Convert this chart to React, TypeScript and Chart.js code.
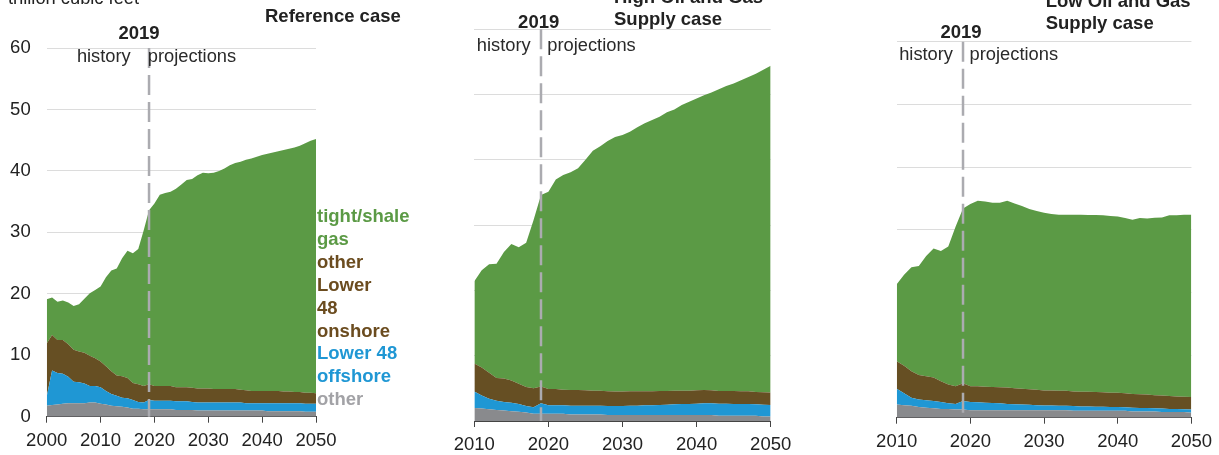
import React, { useEffect, useRef } from "react";
import { Chart, registerables } from "chart.js";

Chart.register(...registerables);

const FONT = "'Liberation Sans', Arial, Helvetica, sans-serif";

// ---------- Reference case (2000-2050) ----------
const refYears = [
  2000, 2001, 2002, 2003, 2004, 2005, 2006, 2007, 2008, 2009,
  2010, 2011, 2012, 2013, 2014, 2015, 2016, 2017, 2018, 2019,
  2020, 2021, 2022, 2023, 2024, 2025, 2026, 2027, 2028, 2029,
  2030, 2031, 2032, 2033, 2034, 2035, 2036, 2037, 2038, 2039,
  2040, 2041, 2042, 2043, 2044, 2045, 2046, 2047, 2048, 2049, 2050,
];
const refOther = [
  1.8, 1.9, 2.0, 2.1, 2.2, 2.2, 2.2, 2.2, 2.3, 2.3,
  2.1, 2.0, 1.8, 1.7, 1.6, 1.5, 1.3, 1.3, 1.2, 1.2,
  1.2, 1.2, 1.2, 1.2, 1.1, 1.1, 1.1, 1.1, 1.0, 1.0,
  1.0, 1.0, 1.0, 1.0, 1.0, 1.0, 1.0, 1.0, 1.0, 1.0,
  1.0, 0.9, 0.9, 0.9, 0.9, 0.9, 0.9, 0.9, 0.8, 0.8, 0.8,
];
const refOffshore = [
  1.5, 5.6, 5.1, 4.9, 4.3, 3.5, 3.4, 3.2, 2.7, 2.7,
  2.7, 2.2, 1.9, 1.7, 1.5, 1.5, 1.4, 1.1, 1.1, 1.5,
  1.4, 1.4, 1.4, 1.4, 1.4, 1.4, 1.4, 1.3, 1.3, 1.3,
  1.3, 1.3, 1.3, 1.3, 1.3, 1.3, 1.3, 1.2, 1.2, 1.2,
  1.2, 1.3, 1.3, 1.3, 1.3, 1.3, 1.3, 1.3, 1.3, 1.3, 1.3,
];
const refOnshore = [
  8.6, 5.8, 5.4, 5.5, 5.3, 5.2, 5.0, 5.0, 4.9, 4.5,
  4.2, 4.0, 3.7, 3.3, 3.5, 3.3, 2.8, 2.9, 2.7, 2.6,
  2.4, 2.4, 2.4, 2.4, 2.3, 2.3, 2.3, 2.3, 2.3, 2.3,
  2.3, 2.2, 2.2, 2.2, 2.2, 2.2, 2.1, 2.1, 2.0, 2.0,
  2.0, 2.0, 2.0, 2.0, 1.9, 1.9, 1.8, 1.8, 1.8, 1.8, 1.7,
];
const refTight = [
  7.2, 6.1, 6.2, 6.4, 6.8, 7.1, 7.7, 8.8, 10.2, 11.1,
  12.2, 14.5, 16.4, 17.4, 19.2, 20.7, 21.1, 22.0, 25.3, 28.3,
  29.7, 31.1, 31.4, 31.6, 32.3, 33.0, 33.7, 34.0, 34.7, 35.1,
  35.0, 35.2, 35.5, 35.9, 36.4, 36.8, 37.1, 37.5, 37.8, 38.1,
  38.4, 38.6, 38.8, 39.0, 39.3, 39.5, 39.8, 40.1, 40.6, 41.0, 41.4,
];

// ---------- Side cases (2010-2050) ----------
const caseYears = [
  2010, 2011, 2012, 2013, 2014, 2015, 2016, 2017, 2018, 2019,
  2020, 2021, 2022, 2023, 2024, 2025, 2026, 2027, 2028, 2029,
  2030, 2031, 2032, 2033, 2034, 2035, 2036, 2037, 2038, 2039,
  2040, 2041, 2042, 2043, 2044, 2045, 2046, 2047, 2048, 2049, 2050,
];

// High Oil and Gas Supply case
const highOther = [
  2.0, 1.9, 1.8, 1.7, 1.6, 1.5, 1.4, 1.3, 1.1, 1.1,
  1.1, 1.1, 1.1, 1.0, 1.0, 1.0, 1.0, 1.0, 0.9, 0.9,
  0.9, 0.9, 0.9, 0.9, 0.9, 0.9, 0.9, 0.9, 0.9, 0.9,
  0.9, 0.9, 0.9, 0.8, 0.8, 0.8, 0.8, 0.8, 0.8, 0.7, 0.7,
];
const highOffshore = [
  2.5, 2.0, 1.6, 1.4, 1.3, 1.3, 1.2, 1.0, 1.0, 1.6,
  1.3, 1.3, 1.3, 1.35, 1.35, 1.35, 1.35, 1.35, 1.4, 1.4,
  1.4, 1.45, 1.45, 1.5, 1.5, 1.55, 1.6, 1.65, 1.7, 1.7,
  1.75, 1.8, 1.8, 1.85, 1.85, 1.8, 1.8, 1.8, 1.75, 1.8, 1.75,
];
const highOnshore = [
  4.3, 4.3, 4.0, 3.5, 3.6, 3.4, 3.1, 2.9, 2.9, 2.6,
  2.5, 2.5, 2.4, 2.4, 2.4, 2.35, 2.3, 2.3, 2.25, 2.2,
  2.2, 2.2, 2.2, 2.15, 2.15, 2.15, 2.1, 2.1, 2.05, 2.05,
  2.05, 2.05, 2.0, 1.95, 1.95, 2.0, 1.95, 1.95, 1.9, 1.9, 1.9,
];
const highTight = [
  12.6, 14.9, 16.6, 17.5, 19.4, 20.9, 20.9, 22.1, 25.8, 29.3,
  30.2, 32.1, 32.9, 33.35, 33.95, 35.3, 36.75, 37.45, 38.35, 39.0,
  39.3, 39.75, 40.45, 41.05, 41.55, 42.0, 42.7, 43.05, 43.75, 44.25,
  44.7, 45.15, 45.6, 46.2, 46.7, 47.1, 47.65, 48.15, 48.75, 49.4, 50.05,
];

// Low Oil and Gas Supply case
const lowOther = [
  2.1, 2.0, 1.9, 1.7, 1.6, 1.5, 1.4, 1.4, 1.3, 1.3,
  1.2, 1.2, 1.2, 1.2, 1.2, 1.2, 1.2, 1.2, 1.2, 1.2,
  1.2, 1.2, 1.2, 1.2, 1.1, 1.1, 1.1, 1.1, 1.1, 1.1,
  1.1, 1.1, 1.0, 1.0, 1.0, 1.0, 0.9, 0.9, 0.9, 0.9, 0.8,
];
const lowOffshore = [
  2.5, 1.9, 1.3, 1.2, 1.2, 1.15, 1.1, 0.9, 0.9, 1.35,
  1.3, 1.25, 1.2, 1.15, 1.1, 1.0, 0.95, 0.9, 0.85, 0.8,
  0.75, 0.75, 0.7, 0.7, 0.75, 0.7, 0.7, 0.65, 0.65, 0.6,
  0.6, 0.55, 0.6, 0.55, 0.55, 0.5, 0.55, 0.5, 0.5, 0.45, 0.5,
];
const lowOnshore = [
  4.4, 4.4, 4.2, 3.9, 3.8, 3.75, 3.3, 3.0, 2.8, 2.85,
  2.5, 2.55, 2.55, 2.55, 2.55, 2.6, 2.55, 2.5, 2.5, 2.45,
  2.4, 2.4, 2.4, 2.4, 2.35, 2.35, 2.35, 2.35, 2.3, 2.3,
  2.3, 2.25, 2.2, 2.2, 2.15, 2.1, 2.1, 2.05, 2.0, 2.0, 2.0,
];
const lowTight = [
  12.3, 14.5, 16.6, 17.4, 19.2, 20.6, 20.8, 22.0, 25.5, 27.9,
  29.1, 29.6, 29.55, 29.4, 29.45, 29.8, 29.5, 29.2, 28.75, 28.55,
  28.35, 28.15, 28.1, 28.1, 28.2, 28.25, 28.2, 28.25, 28.25, 28.2,
  28.1, 27.95, 27.8, 28.1, 28.1, 28.3, 28.4, 28.85, 28.9, 29.05, 29.1,
];

const seriesNames = ["other", "Lower 48 offshore", "other Lower 48 onshore", "tight/shale gas"];
const seriesColors = ["#898a8d", "#1f97d4", "#664f23", "#5b9a45"];

const legendLines = [
  { text: "tight/shale", color: "#5b9a45" },
  { text: "gas", color: "#5b9a45" },
  { text: "other", color: "#6b4c1f" },
  { text: "Lower", color: "#6b4c1f" },
  { text: "48", color: "#6b4c1f" },
  { text: "onshore", color: "#6b4c1f" },
  { text: "Lower 48", color: "#1f97d4" },
  { text: "offshore", color: "#1f97d4" },
  { text: "other", color: "#a2a2a6" },
];

const DIVIDE_YEAR = 2019;
const CANVAS_H = 455;

type PanelCfg = {
  left: number;
  width: number;
  plotLeft: number;
  plotRight: number;
  plotTop: number;
  plotBottom: number;
  xMin: number;
  years: number[];
  series: number[][];
  showY: boolean;
  title: string[];
  titleX: number;
  titleBase: number;
  yearOff: number;
  yearBase: number;
  histOff: number;
  projOff: number;
  histBase: number;
  unitLabel: boolean;
  legend: boolean;
};

const panels: PanelCfg[] = [
  {
    left: 0, width: 440, plotLeft: 46.7, plotRight: 316, plotTop: 48, plotBottom: 416.7,
    xMin: 2000, years: refYears, series: [refOther, refOffshore, refOnshore, refTight],
    showY: true, title: ["Reference case"], titleX: 265, titleBase: 22,
    yearOff: -10, yearBase: 39, histOff: -18.3, projOff: -1.3, histBase: 62,
    unitLabel: true, legend: true,
  },
  {
    left: 440, width: 370, plotLeft: 34.3, plotRight: 330.7, plotTop: 29.3, plotBottom: 421,
    xMin: 2010, years: caseYears, series: [highOther, highOffshore, highOnshore, highTight],
    showY: false, title: ["High Oil and Gas", "Supply case"], titleX: 174, titleBase: 3,
    yearOff: -2.3, yearBase: 28.3, histOff: -10.3, projOff: 6.3, histBase: 50.7,
    unitLabel: false, legend: false,
  },
  {
    left: 860, width: 359, plotLeft: 36.7, plotRight: 333.3, plotTop: 41.7, plotBottom: 417.7,
    xMin: 2010, years: caseYears, series: [lowOther, lowOffshore, lowOnshore, lowTight],
    showY: false, title: ["Low Oil and Gas", "Supply case"], titleX: 185.7, titleBase: 6.7,
    yearOff: -2, yearBase: 38.3, histOff: -10, projOff: 6.6, histBase: 60,
    unitLabel: false, legend: false,
  },
];

const annotPlugin = {
  id: "annot",
  afterDatasetsDraw(chart: any, _args: any, opts: any) {
    const cfg: PanelCfg = opts.cfg;
    if (!cfg) return;
    const { ctx, chartArea, scales } = chart;
    const x = scales.x.getPixelForValue(DIVIDE_YEAR);
    ctx.save();
    // dashed divider
    ctx.strokeStyle = "#ababb0";
    ctx.lineWidth = 2.5;
    ctx.setLineDash([20, 7]);
    ctx.beginPath();
    ctx.moveTo(x, chartArea.top);
    ctx.lineTo(x, chartArea.bottom);
    ctx.stroke();
    ctx.setLineDash([]);

    ctx.textBaseline = "alphabetic";
    // year label
    ctx.fillStyle = "#222";
    ctx.font = `bold 18.5px ${FONT}`;
    ctx.textAlign = "center";
    ctx.fillText(String(DIVIDE_YEAR), x + cfg.yearOff, cfg.yearBase);

    // history / projections
    ctx.font = `18.3px ${FONT}`;
    ctx.fillStyle = "#2a2a2a";
    ctx.textAlign = "right";
    ctx.fillText("history", x + cfg.histOff, cfg.histBase);
    ctx.textAlign = "left";
    ctx.fillText("projections", x + cfg.projOff, cfg.histBase);

    // title
    ctx.font = `bold 18.5px ${FONT}`;
    ctx.fillStyle = "#222";
    cfg.title.forEach((t, i) => ctx.fillText(t, cfg.titleX, cfg.titleBase + i * 22));

    if (cfg.unitLabel) {
      ctx.font = `18.3px ${FONT}`;
      ctx.fillStyle = "#222";
      ctx.fillText("trillion cubic feet", 8, 3.5);
    }

    if (cfg.legend) {
      ctx.font = `bold 18.5px ${FONT}`;
      legendLines.forEach((l, i) => {
        ctx.fillStyle = l.color;
        ctx.fillText(l.text, chartArea.right + 1, 222 + i * 22.9);
      });
    }
    ctx.restore();
  },
};

function Panel({ cfg }: { cfg: PanelCfg }) {
  const ref = useRef<HTMLCanvasElement | null>(null);
  useEffect(() => {
    const canvas = ref.current;
    if (!canvas) return;
    const datasets = cfg.series.map((vals, i) => ({
      label: seriesNames[i],
      data: cfg.years.map((yr, j) => ({ x: yr, y: vals[j] })),
      backgroundColor: seriesColors[i],
      borderColor: "rgba(0,0,0,0)",
      borderWidth: 0,
      pointRadius: 0,
      pointHoverRadius: 0,
      tension: 0,
      fill: i === 0 ? "origin" : "-1",
    }));
    const chart = new Chart(canvas, {
      type: "line",
      data: { datasets },
      plugins: [annotPlugin],
      options: {
        animation: false,
        responsive: false,
        devicePixelRatio: 1,
        events: [],
        layout: {
          padding: { left: 0, top: cfg.plotTop, right: cfg.width - cfg.plotRight, bottom: 0 },
        },
        plugins: {
          legend: { display: false },
          tooltip: { enabled: false },
          title: { display: false },
          annot: { cfg },
        } as any,
        scales: {
          x: {
            type: "linear",
            min: cfg.xMin,
            max: 2050,
            afterFit: (s: any) => {
              s.height = CANVAS_H - cfg.plotBottom;
            },
            ticks: {
              stepSize: 10,
              autoSkip: false,
              maxRotation: 0,
              padding: 7,
              color: "#222",
              font: { family: FONT, size: 18.5 },
              callback: (v: any) => String(v),
            },
            grid: {
              drawOnChartArea: false,
              drawTicks: true,
              tickLength: 6,
              color: "#444",
              lineWidth: 1,
            },
            border: { display: true, color: "#444", width: 1 },
          },
          y: {
            stacked: true,
            min: 0,
            max: 60,
            afterFit: (s: any) => {
              s.width = cfg.plotLeft;
            },
            ticks: {
              display: cfg.showY,
              stepSize: 10,
              padding: 16,
              color: "#222",
              font: { family: FONT, size: 18.5 },
            },
            grid: { color: "#dcdcdc", lineWidth: 1, drawTicks: false },
            border: { display: false },
          },
        },
      } as any,
    });
    return () => chart.destroy();
  }, [cfg]);
  return (
    <canvas
      ref={ref}
      width={cfg.width}
      height={CANVAS_H}
      style={{ position: "absolute", left: cfg.left, top: 0, width: cfg.width, height: CANVAS_H }}
    />
  );
}

export default function App() {
  return (
    <div
      style={{
        position: "absolute",
        left: 0,
        top: 0,
        width: 1219,
        height: CANVAS_H,
        background: "#fff",
        overflow: "hidden",
      }}
    >
      {panels.map((p, i) => (
        <Panel key={i} cfg={p} />
      ))}
    </div>
  );
}
